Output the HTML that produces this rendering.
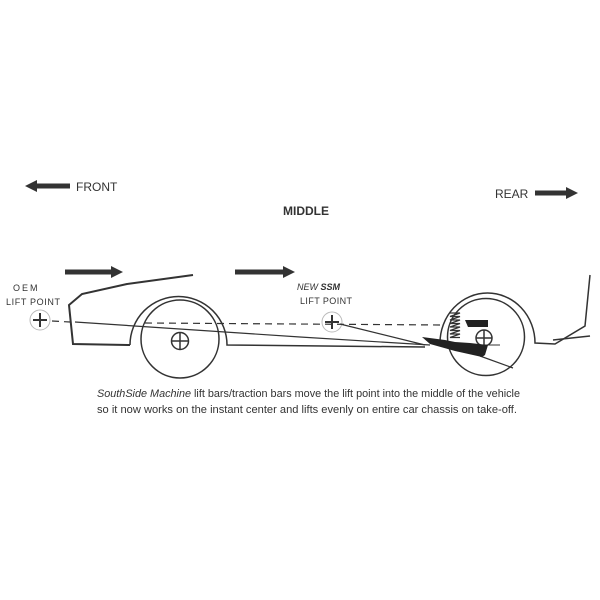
<!DOCTYPE html>
<html><head><style>
html,body{margin:0;padding:0;background:#fff;}
svg{display:block;}
text{font-family:"Liberation Sans",sans-serif;fill:#333;}
</style></head><body>
<svg width="600" height="600" viewBox="0 0 600 600" xmlns="http://www.w3.org/2000/svg">
<g fill="#333">
<polygon points="25,186 37,180 37,183.5 70,183.5 70,188.5 37,188.5 37,192"/>
<polygon points="578,193 566,187 566,190.5 535,190.5 535,195.5 566,195.5 566,199"/>
<polygon points="123,272 111,266 111,269.5 65,269.5 65,274.5 111,274.5 111,278"/>
<polygon points="295,272 283,266 283,269.5 235,269.5 235,274.5 283,274.5 283,278"/>
</g>
<text x="76" y="191" font-size="12">FRONT</text>
<text x="495" y="198" font-size="12">REAR</text>
<text x="283" y="215" font-size="12" font-weight="bold" fill="#222">MIDDLE</text>
<text x="13" y="291" font-size="9" letter-spacing="2">OEM</text>
<text x="6" y="305" font-size="9" textLength="54">LIFT POINT</text>
<text x="297" y="290" font-size="9" font-style="italic">NEW <tspan font-weight="bold">SSM</tspan></text>
<text x="300" y="304" font-size="9" textLength="52">LIFT POINT</text>
<g fill="none" stroke="#333" stroke-width="1.5">
<circle cx="40" cy="320" r="10" stroke="#bbb" stroke-width="1"/>
<path d="M33,320h14M40,313v14" stroke-width="2"/>
<circle cx="332" cy="322" r="10" stroke="#bbb" stroke-width="1"/>
<path d="M325,322h14M332,315v14" stroke-width="2"/>
<path d="M52,321 L70,322 M145,323 L445,325" stroke-dasharray="7,5" stroke-width="1.2"/>
<path d="M193,275 L127,284 L82,294 L69,305 L73,344 L130,345" stroke-width="2"/>
<path d="M130,345 A48.5,48.5 0 0 1 227,345 L425,347" stroke-width="1.5"/>
<circle cx="180" cy="339" r="39"/>
<circle cx="180" cy="341" r="8.5"/>
<path d="M171.5,341h17M180,332.5v17"/>
<path d="M75,322 L300,337 L430,345" stroke-width="1.2"/>
<path d="M340,324 L425,345" stroke-width="1.2"/>
<path d="M440,343 A47.5,50 0 0 1 535,343 L555,344 L585,326 L590,275" stroke-width="1.5"/>
<path d="M553,340 L590,336" stroke-width="1.5"/>
<circle cx="486" cy="337" r="38.5"/>
<circle cx="484" cy="338" r="8"/>
<path d="M476,338h16M484,330v16"/>
<path d="M470,345 L500,345" stroke-width="1"/>
<path d="M480,356 L513,368" stroke-width="1.2"/>
<path d="M450,313 h10 l-10,3.5 h10 l-10,3.5 h10 l-10,3.5 h10 l-10,3.5 h10 l-10,3.5 h10 l-10,3.5 h10 l-10,3.5 h10" stroke-width="1.3"/>
</g>
<polygon points="422,337 445,340 455,342 470,343 488,345 485,355 482,357 455,351 430,344" fill="#222"/>
<polygon points="465,320 488,320 488,327 468,327" fill="#222"/>
<text x="97" y="397" font-size="11" textLength="423" lengthAdjust="spacingAndGlyphs"><tspan font-style="italic">SouthSide Machine</tspan> lift bars/traction bars move the lift point into the middle of the vehicle</text>
<text x="97" y="413" font-size="11" textLength="420" lengthAdjust="spacingAndGlyphs">so it now works on the instant center and lifts evenly on entire car chassis on take-off.</text>
</svg>
</body></html>
